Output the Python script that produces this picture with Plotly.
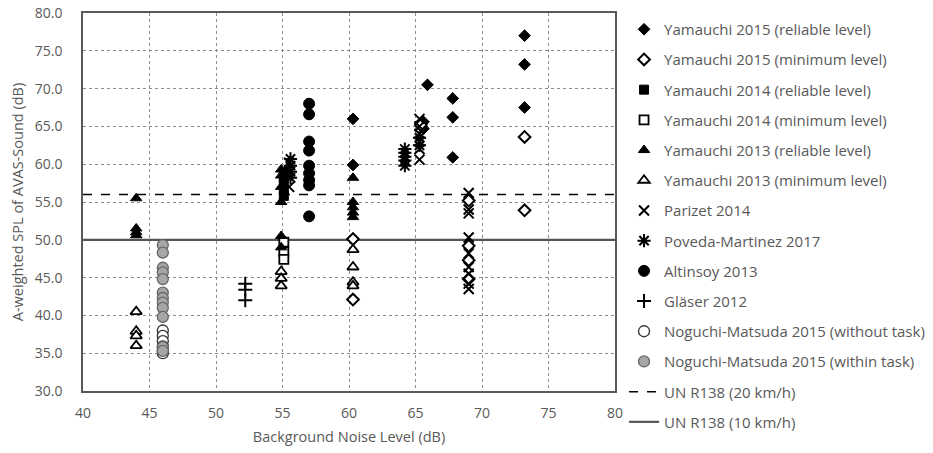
import plotly.graph_objects as go

# ---- data ----
y15r_x = [73.2, 73.2, 73.2, 65.9, 67.8, 67.8, 67.8, 60.3, 60.3, 65.6, 65.6]
y15r_y = [77.0, 73.2, 67.5, 70.5, 68.7, 66.2, 60.9, 66.0, 59.9, 65.6, 64.7]

y15m_x = [73.2, 73.2, 60.3, 60.3, 69.0, 69.0, 69.0, 69.0, 65.4]
y15m_y = [63.6, 53.9, 50.1, 42.1, 55.2, 49.2, 47.3, 44.8, 65.2]

y14r_x = [55.1, 55.1, 55.1, 55.1, 55.1]
y14r_y = [59.0, 58.2, 57.4, 56.6, 55.8]

y14m_x = [55.1, 55.1, 55.1]
y14m_y = [49.7, 48.4, 47.4]

y13r_x = [44.0, 44.0, 44.0, 44.0, 54.9, 54.9, 54.9, 54.9, 54.9, 54.9, 60.3, 60.3, 60.3, 60.3, 60.3]
y13r_y = [55.5, 51.5, 51.0, 50.6, 59.3, 58.5, 57.0, 55.0, 50.5, 49.0, 58.2, 55.0, 54.3, 53.6, 53.0]

y13m_x = [44.0, 44.0, 44.0, 44.0, 54.9, 54.9, 54.9, 60.3, 60.3, 60.3, 60.3]
y13m_y = [40.5, 37.9, 37.3, 36.0, 45.8, 44.9, 43.9, 48.7, 46.4, 44.4, 43.9]

par_x = [69.0] * 9 + [65.3] * 6 + [55.5, 55.5]
par_y = [56.2, 54.0, 53.5, 50.3, 48.2, 46.4, 45.5, 44.2, 43.5,
         66.0, 65.0, 64.0, 63.0, 62.0, 60.6, 60.2, 57.0]

pov_x = [64.2] * 5 + [65.3, 65.3] + [55.6] * 4
pov_y = [62.0, 61.5, 61.0, 60.5, 59.8, 63.5, 62.5, 60.7, 59.8, 59.0, 58.2]

alt_x = [57.0] * 9
alt_y = [68.0, 66.6, 63.0, 61.8, 59.8, 58.8, 57.9, 57.2, 53.1]

gla_x = [52.2, 52.2, 52.2]
gla_y = [44.2, 43.4, 42.0]

nmw_x = [46.0] * 6
nmw_y = [38.0, 37.3, 36.6, 35.9, 35.4, 35.0]

nmt_x = [46.0] * 12
nmt_y = [49.3, 48.3, 46.3, 45.7, 44.8, 43.0, 42.3, 41.7, 41.0, 39.8, 35.8, 35.3]

ref_x = [40, 80]
un20 = 56.0
un10 = 50.0

names = ["Yamauchi 2015 (reliable level)", "Yamauchi 2015 (minimum level)",
         "Yamauchi 2014 (reliable level)", "Yamauchi 2014 (minimum level)",
         "Yamauchi 2013 (reliable level)", "Yamauchi 2013 (minimum level)",
         "Parizet 2014", "Poveda-Martinez 2017", "Altinsoy 2013", "Gläser 2012",
         "Noguchi-Matsuda 2015 (without task)", "Noguchi-Matsuda 2015 (within task)",
         "UN R138 (20 km/h)", "UN R138 (10 km/h)"]

fig = go.Figure()

# reference lines
fig.add_trace(go.Scatter(x=ref_x, y=[un20, un20], mode="lines", name=names[12],
                         line=dict(color="black", width=1.5, dash="dash"),
                         legendrank=13, legendgroup="g13"))
fig.add_trace(go.Scatter(x=ref_x, y=[un10, un10], mode="lines", name=names[13],
                         line=dict(color="#555555", width=2.2),
                         legendrank=14, legendgroup="g14"))

BLK = "black"
series = [
    (y15r_x, y15r_y, "diamond", BLK, BLK, 1, 9),
    (y15m_x, y15m_y, "diamond", "white", BLK, 2, 9),
    (y14r_x, y14r_y, "square", BLK, BLK, 1, 9),
    (y14m_x, y14m_y, "square", "white", BLK, 1.8, 9),
    (y13r_x, y13r_y, "triangle-up", BLK, BLK, 1, 10),
    (y13m_x, y13m_y, "triangle-up", "white", BLK, 1.8, 10),
    (par_x, par_y, "x-thin-open", BLK, BLK, 2, 10),
    (pov_x, pov_y, "asterisk-open", BLK, BLK, 2, 11),
    (alt_x, alt_y, "circle", BLK, BLK, 1, 11),
    (gla_x, gla_y, "cross-thin-open", BLK, BLK, 2, 10),
    (nmw_x, nmw_y, "circle", "white", "#333333", 1.3, 11),
    (nmt_x, nmt_y, "circle", "#a6a6a6", "#666666", 1.3, 11),
]
for i, (xs, ys, sym, fill, lc, lw, sz) in enumerate(series):
    fig.add_trace(go.Scatter(
        x=xs, y=ys, mode="markers", name=names[i],
        marker=dict(symbol=sym, color=fill, size=sz, line=dict(color=lc, width=lw)),
        legendrank=i + 1, legendgroup="g%d" % (i + 1)))

FONT = "Open Sans"
GRAY = "#595959"
axis_common = dict(showline=True, linecolor=GRAY, linewidth=1.5, mirror=True,
                   showgrid=True, gridcolor="#8c8c8c", griddash="dot", gridwidth=1,
                   zeroline=False, ticks="outside", tickcolor="rgba(0,0,0,0)",
                   automargin=False, ticklabeloverflow="allow",
                   tickfont=dict(family=FONT, size=14, color=GRAY))

fig.update_layout(
    width=933, height=453,
    margin=dict(l=83, r=318, t=13, b=62, autoexpand=False),
    plot_bgcolor="white", paper_bgcolor="white",
    font=dict(family=FONT, color=GRAY),
    xaxis=dict(range=[40, 80], dtick=5, tick0=40, ticklen=8,
               title=dict(text="Background Noise Level (dB)", font=dict(size=14.5, color=GRAY), standoff=11),
               **axis_common),
    yaxis=dict(range=[30, 80], dtick=5, tick0=30, tickformat=".1f", ticklen=16,
               title=dict(text="A-weighted SPL of AVAS-Sound (dB)", font=dict(size=14.5, color=GRAY), standoff=8),
               **axis_common),
    legend=dict(x=1.017, xanchor="left", y=1.0, yanchor="top", xref="paper",
                font=dict(family=FONT, size=15, color=GRAY), maxheight=1000,
                tracegroupgap=7.7, itemwidth=30, bgcolor="rgba(0,0,0,0)"),
    showlegend=True,
)

fig.write_html("out.html", config={"displayModeBar": False},
               post_script="document.body.style.margin='0';")
